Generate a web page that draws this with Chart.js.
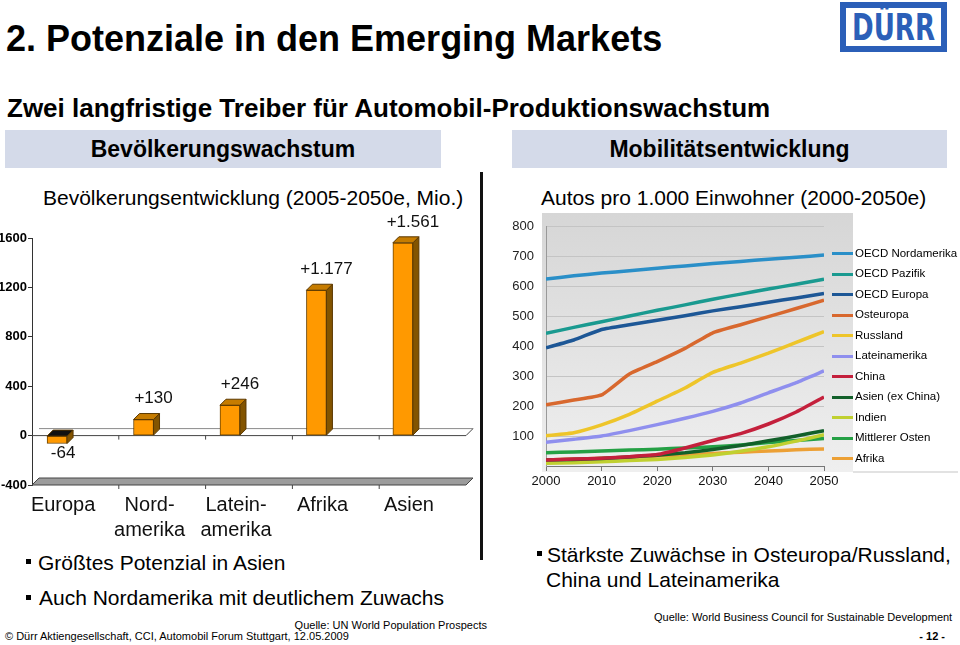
<!DOCTYPE html>
<html lang="de">
<head>
<meta charset="utf-8">
<title>Potenziale in den Emerging Markets</title>
<script src="https://cdn.jsdelivr.net/npm/chart.js@4.4.1/dist/chart.umd.min.js"></script>
<style>
  html, body { margin: 0; padding: 0; background: #fff; }
  body { width: 960px; height: 645px; position: relative; overflow: hidden;
         font-family: "Liberation Sans", Arial, sans-serif; color: #000; }
  .abs { position: absolute; white-space: nowrap; line-height: 1; }
  .hdr { position: absolute; top: 130px; height: 38px; line-height: 38px; background: #d4dae9;
         font-weight: bold; font-size: 23px; text-align: center; }
  .sq { position: absolute; width: 5px; height: 5px; background: #000; }
  .lg-line { position: absolute; left: 832px; width: 21px; height: 3px; }
  .lg-text { position: absolute; left: 855px; font-size: 11.5px; line-height: 1; white-space: nowrap; }
  canvas { position: absolute; }
  .logo { position: absolute; left: 840px; top: 2px; width: 107px; height: 50px; box-sizing: border-box;
          border: 6px solid #2b5fb8; overflow: hidden; text-align: center; }
  .logo span { display: inline-block; color: #2b5fb8; font-family: "DejaVu Sans Condensed", "Liberation Sans", sans-serif;
               font-weight: bold; font-size: 29px; line-height: 38px; transform: scale(1, 1.3); letter-spacing: 0px; }
</style>
</head>
<body>

<div class="abs" style="left:6px; top:21px; font-size:36px; font-weight:bold;">2. Potenziale in den Emerging Markets</div>
<div class="logo"><span>DÜRR</span></div>

<div class="abs" style="left:7px; top:95px; font-size:26px; font-weight:bold;">Zwei langfristige Treiber für Automobil-Produktionswachstum</div>

<div class="hdr" style="left:5px; width:436px;">Bevölkerungswachstum</div>
<div class="hdr" style="left:512px; width:435px;">Mobilitätsentwicklung</div>

<div class="abs" style="left:43px; top:187px; font-size:21px;">Bevölkerungsentwicklung (2005-2050e, Mio.)</div>
<div class="abs" style="left:541px; top:187px; font-size:21px;">Autos pro 1.000 Einwohner (2000-2050e)</div>

<canvas id="popChart" width="478" height="345" style="left:0; top:205px;"></canvas>
<canvas id="carChart" width="370" height="290" style="left:490px; top:205px;"></canvas>
<div id="legend"></div>
<div style="position:absolute; left:853px; top:471px; width:105px; height:2px; background:#e2e2e2;"></div>

<div style="position:absolute; left:480px; top:172px; width:3px; height:388px; background:#111;"></div>

<div class="sq" style="left:26px; top:559px;"></div>
<div class="abs" style="left:38px; top:552px; font-size:21px;">Größtes Potenzial in Asien</div>
<div class="sq" style="left:26px; top:595px;"></div>
<div class="abs" style="left:39px; top:587px; font-size:21px;">Auch Nordamerika mit deutlichem Zuwachs</div>

<div class="sq" style="left:537px; top:551px;"></div>
<div class="abs" style="left:547px; top:544px; font-size:21px;">Stärkste Zuwächse in Osteuropa/Russland,</div>
<div class="abs" style="left:546px; top:569px; font-size:21px;">China und Lateinamerika</div>

<div class="abs" style="right:473px; top:620px; font-size:11px;">Quelle: UN World Population Prospects</div>
<div class="abs" style="left:5px; top:631px; font-size:11px;">© Dürr Aktiengesellschaft, CCI, Automobil Forum Stuttgart, 12.05.2009</div>
<div class="abs" style="left:654px; top:612px; font-size:11px;">Quelle: World Business Council for Sustainable Development</div>
<div class="abs" style="right:15px; top:631px; font-size:11px; font-weight:bold;">- 12 -</div>

<script>
// --- Bevölkerungsentwicklung 2005-2050e (Mio.)
const popCats = [['Europa'], ['Nord-', 'amerika'], ['Latein-', 'amerika'], ['Afrika'], ['Asien']];
const popValues = [-64, 130, 246, 1177, 1561];
const popTicks = [-400, 0, 400, 800, 1200, 1600];

// --- Autos pro 1.000 Einwohner 2000-2050e
const years = [2000, 2005, 2010, 2015, 2020, 2025, 2030, 2035, 2040, 2045, 2050];
const oecdNordamerika = [623, 634, 643, 651, 659, 667, 675, 682, 689, 696, 703];
const oecdPazifik     = [442, 462, 481, 500, 519, 537, 556, 573, 590, 606, 623];
const oecdEuropa      = [394, 420, 455, 471, 486, 501, 517, 531, 546, 560, 575];
const osteuropa       = [204, 220, 237, 307, 348, 392, 444, 471, 498, 525, 553];
const russland        = [101, 111, 137, 172, 216, 260, 312, 343, 376, 412, 448];
const lateinamerika   = [79, 89, 100, 118, 138, 159, 182, 210, 244, 278, 317];
const china           = [20, 23, 26, 31, 38, 60, 85, 108, 140, 180, 230];
const asienExChina    = [20, 22, 25, 30, 36, 44, 55, 68, 84, 100, 118];
const indien          = [9, 11, 14, 18, 22, 28, 37, 49, 64, 83, 104];
const mittlererOsten  = [44, 47, 50, 53, 56, 60, 64, 70, 78, 85, 92];
const afrika          = [20, 23, 26, 29, 33, 37, 42, 46, 50, 54, 57];
const regionNames = ['OECD Nordamerika', 'OECD Pazifik', 'OECD Europa', 'Osteuropa', 'Russland',
  'Lateinamerika', 'China', 'Asien (ex China)', 'Indien', 'Mittlerer Osten', 'Afrika'];
const regionColors = ['#2a8fc8', '#1a9a90', '#1d5796', '#d8682e', '#eec52a',
  '#8f8fee', '#c4203c', '#12602a', '#c0d030', '#25a045', '#eca035'];
const regionData = [oecdNordamerika, oecdPazifik, oecdEuropa, osteuropa, russland,
  lateinamerika, china, asienExChina, indien, mittlererOsten, afrika];

function fmtDelta(v) {
  const s = String(Math.abs(v)).replace(/\B(?=(\d{3})+(?!\d))/g, '.');
  return (v > 0 ? '+' : '-') + s;
}

// fake 3d look: floor, back wall line, side/top faces, value labels
const bars3d = {
  id: 'bars3d',
  beforeDatasetsDraw(chart) {
    const { ctx, chartArea: a, scales: { y } } = chart;
    const d = 7;
    const yf = y.getPixelForValue(-400), y0 = y.getPixelForValue(0);
    ctx.save();
    ctx.beginPath();
    ctx.moveTo(a.left, yf); ctx.lineTo(a.right, yf);
    ctx.lineTo(a.right + d, yf - d); ctx.lineTo(a.left + d, yf - d); ctx.closePath();
    ctx.fillStyle = '#9c9c9c'; ctx.fill();
    ctx.strokeStyle = '#444'; ctx.lineWidth = 1; ctx.stroke();
    ctx.strokeStyle = '#8a8a8a';
    ctx.beginPath(); ctx.moveTo(a.left + d, y0 - d); ctx.lineTo(a.right + d, y0 - d); ctx.stroke();
    ctx.strokeStyle = '#444';
    ctx.beginPath(); ctx.moveTo(a.left, y0); ctx.lineTo(a.right, y0);
    ctx.lineTo(a.right + d, y0 - d); ctx.stroke();
    for (let k = 1; k < popCats.length; k++) {
      const bx = a.left + k * (a.right - a.left) / popCats.length;
      ctx.beginPath(); ctx.moveTo(bx, y0); ctx.lineTo(bx, y0 + 4); ctx.stroke();
      ctx.beginPath(); ctx.moveTo(bx, yf); ctx.lineTo(bx, yf + 4); ctx.stroke();
    }
    ctx.restore();
  },
  afterDatasetsDraw(chart) {
    const { ctx } = chart;
    const d = 6;
    const meta = chart.getDatasetMeta(0);
    ctx.save();
    ctx.lineWidth = 1;
    ctx.strokeStyle = '#5a3800';
    meta.data.forEach((bar, i) => {
      const p = bar.getProps(['x', 'y', 'base', 'width'], true);
      const xl = p.x - p.width / 2, xr = p.x + p.width / 2;
      const top = Math.min(p.y, p.base), bot = Math.max(p.y, p.base);
      ctx.beginPath();
      ctx.moveTo(xr, top); ctx.lineTo(xr + d, top - d); ctx.lineTo(xr + d, bot - d); ctx.lineTo(xr, bot);
      ctx.closePath();
      ctx.fillStyle = '#835400'; ctx.fill(); ctx.stroke();
      ctx.beginPath();
      ctx.moveTo(xl, top); ctx.lineTo(xl + d, top - d); ctx.lineTo(xr + d, top - d); ctx.lineTo(xr, top);
      ctx.closePath();
      ctx.fillStyle = popValues[i] < 0 ? '#111' : '#c67c00'; ctx.fill(); ctx.stroke();

      const v = popValues[i];
      ctx.fillStyle = '#111';
      ctx.font = '17px "Liberation Sans", Arial, sans-serif';
      ctx.textAlign = 'center';
      ctx.textBaseline = 'middle';
      if (v >= 0) ctx.fillText(fmtDelta(v), p.x + 10, p.y - 21);
      else ctx.fillText(fmtDelta(v), p.x + 6, p.y + 10);
    });
    ctx.restore();
  }
};

new Chart(document.getElementById('popChart'), {
  type: 'bar',
  data: {
    datasets: [{
      data: popValues.map((v, i) => ({ x: i, y: v })),
      backgroundColor: '#ff9900',
      borderColor: '#6b4300',
      borderWidth: 1,
      borderSkipped: false,
      barThickness: 20
    }]
  },
  options: {
    responsive: false,
    animation: false,
    devicePixelRatio: 1,
    layout: { padding: { top: 33, right: 12, left: 0, bottom: 0 } },
    plugins: { legend: { display: false }, tooltip: { enabled: false } },
    scales: {
      x: {
        type: 'linear',
        offset: false,
        min: -0.29,
        max: 4.73,
        afterBuildTicks: s => { s.ticks = popCats.map((c, i) => ({ value: i + 0.07 })); },
        afterFit: s => { s.height = 65; },
        grid: { display: false, drawTicks: false, offset: false },
        border: { display: false },
        ticks: {
          callback: v => popCats[Math.round(v)],
          font: { family: '"Liberation Sans", Arial, sans-serif', size: 20, lineHeight: 1.25 },
          color: '#111',
          padding: 8,
          maxRotation: 0,
          autoSkip: false
        }
      },
      y: {
        min: -400,
        max: 1600,
        afterBuildTicks: s => { s.ticks = popTicks.map(v => ({ value: v })); },
        afterFit: s => { s.width = 32; },
        grid: { drawOnChartArea: false, tickLength: 4, color: '#333' },
        border: { color: '#333' },
        ticks: {
          callback: v => String(v),
          font: { family: '"Liberation Sans", Arial, sans-serif', size: 13, weight: 'bold' },
          color: '#000',
          padding: 1
        }
      }
    }
  },
  plugins: [bars3d]
});

// grey gradient panel behind the line chart
const panelBg = {
  id: 'panelBg',
  beforeDraw(chart) {
    const { ctx, chartArea: a } = chart;
    const x0 = a.left - 4, x1 = a.right + 29, y0 = a.top - 13, y1 = a.bottom + 6;
    const g = ctx.createLinearGradient(0, y0, 0, y1);
    g.addColorStop(0, '#d6d6d6');
    g.addColorStop(1, '#efefef');
    ctx.save();
    ctx.fillStyle = g;
    ctx.fillRect(x0, y0, x1 - x0, y1 - y0);
    ctx.restore();
  }
};

new Chart(document.getElementById('carChart'), {
  type: 'line',
  data: {
    datasets: regionNames.map((n, i) => ({
      label: n,
      data: regionData[i].map((v, j) => ({ x: years[j], y: v })),
      borderColor: regionColors[i],
      backgroundColor: regionColors[i],
      borderWidth: 3.5,
      pointRadius: 0,
      tension: 0.15
    }))
  },
  options: {
    responsive: false,
    animation: false,
    devicePixelRatio: 1,
    layout: { padding: { top: 21, right: 36, left: 0, bottom: 0 } },
    plugins: { legend: { display: false }, tooltip: { enabled: false } },
    scales: {
      x: {
        type: 'linear',
        min: 2000,
        max: 2050,
        afterFit: s => { s.height = 29; },
        grid: { drawOnChartArea: false, tickLength: 5, color: '#777' },
        border: { color: '#777' },
        ticks: {
          stepSize: 10,
          callback: v => String(v),
          font: { family: '"Liberation Sans", Arial, sans-serif', size: 13 },
          color: '#111',
          padding: 3
        }
      },
      y: {
        min: 0,
        max: 800,
        afterFit: s => { s.width = 56; },
        grid: { color: '#c4c4c4', drawTicks: false },
        border: { color: '#999' },
        ticks: {
          stepSize: 100,
          callback: v => (v === 0 ? '' : String(v)),
          font: { family: '"Liberation Sans", Arial, sans-serif', size: 13 },
          color: '#222',
          padding: 12
        }
      }
    }
  },
  plugins: [panelBg]
});

// legend to the right of the panel
const legendBox = document.getElementById('legend');
regionNames.forEach((n, i) => {
  const cy = 253.5 + i * 20.5;
  const line = document.createElement('div');
  line.className = 'lg-line';
  line.style.top = (cy - 1.5) + 'px';
  line.style.background = regionColors[i];
  legendBox.appendChild(line);
  const t = document.createElement('div');
  t.className = 'lg-text';
  t.style.top = (cy - 5.6) + 'px';
  t.textContent = n;
  legendBox.appendChild(t);
});
</script>
</body>
</html>
